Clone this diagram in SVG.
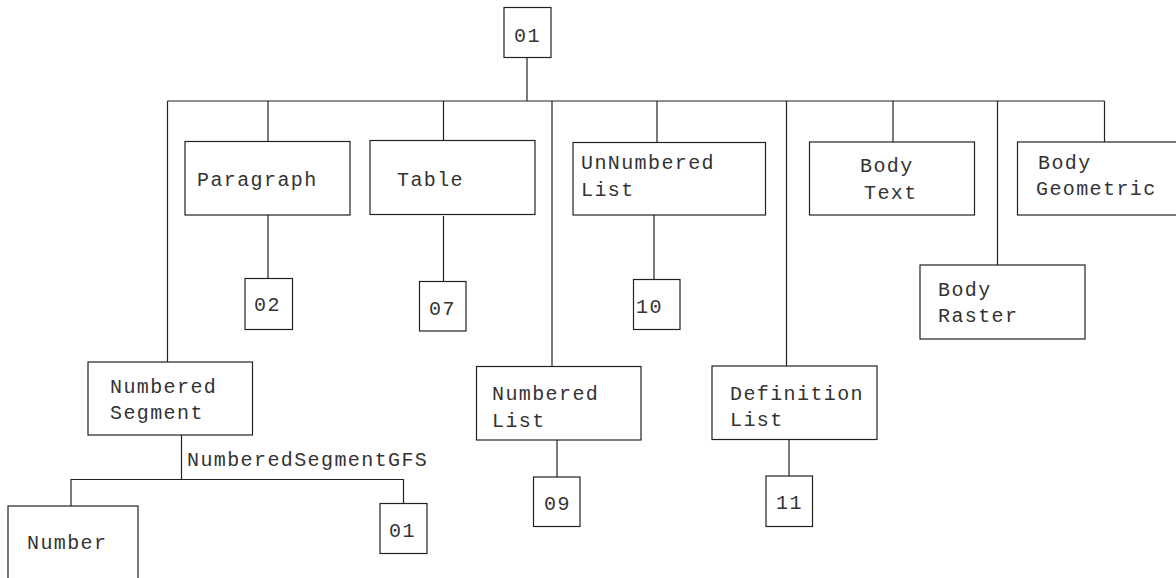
<svg xmlns="http://www.w3.org/2000/svg" width="1176" height="578" viewBox="0 0 1176 578">
<style>
rect{fill:#fff;stroke:#222;stroke-width:1.2}
#connectors line,#connectors polyline{stroke:#222;stroke-width:1.2;fill:none}
text{font-family:"Liberation Mono","DejaVu Sans Mono",monospace;font-size:20px;letter-spacing:1.4px;fill:#333}
</style>
<rect x="0" y="0" width="1176" height="578" style="stroke:none"/>
<g id="connectors">
<line x1="527" y1="58" x2="527" y2="101"/>
<line x1="167.5" y1="101" x2="1104.5" y2="101"/>
<line x1="167.5" y1="101" x2="167.5" y2="362"/>
<line x1="268" y1="101" x2="268" y2="141"/>
<line x1="268" y1="215" x2="268" y2="278"/>
<line x1="443.5" y1="101" x2="443.5" y2="140"/>
<line x1="443.5" y1="216" x2="443.5" y2="281"/>
<line x1="552" y1="101" x2="552" y2="366"/>
<line x1="557" y1="440" x2="557" y2="477"/>
<line x1="657" y1="101" x2="657" y2="142"/>
<line x1="654" y1="215" x2="654" y2="279"/>
<line x1="786.5" y1="101" x2="786.5" y2="366"/>
<line x1="789" y1="439" x2="789" y2="476"/>
<line x1="893" y1="101" x2="893" y2="142"/>
<line x1="997.5" y1="101" x2="997.5" y2="265"/>
<line x1="1104.5" y1="101" x2="1104.5" y2="142"/>
<line x1="181.5" y1="435" x2="181.5" y2="479.5"/>
<polyline points="71,506 71,479.5 403.5,479.5 403.5,503"/>
<text x="187" y="466">NumberedSegmentGFS</text>
</g>
<g id="n01top"><rect x="504" y="7.5" width="47" height="50"/><text x="514" y="42">01</text></g>
<g id="paragraph"><rect x="185" y="141.5" width="165" height="73.5"/><text x="197" y="186">Paragraph</text></g>
<g id="n02"><rect x="245" y="278.5" width="47.5" height="51"/><text x="254" y="311">02</text></g>
<g id="table"><rect x="370" y="140.5" width="165" height="74"/><text x="397" y="186">Table</text></g>
<g id="n07"><rect x="419.5" y="281.5" width="46.5" height="49.5"/><text x="429" y="315">07</text></g>
<g id="unnumbered"><rect x="573" y="142.5" width="192.5" height="72.5"/><text x="581" y="169">UnNumbered</text><text x="581" y="196">List</text></g>
<g id="n10"><rect x="633.5" y="279.5" width="46.5" height="50"/><text x="636" y="313">10</text></g>
<g id="bodytext"><rect x="809.5" y="142" width="165" height="73"/><text x="860" y="172">Body</text><text x="864" y="199">Text</text></g>
<g id="bodygeometric"><rect x="1017.5" y="142" width="180" height="73"/><text x="1038" y="169">Body</text><text x="1036" y="195">Geometric</text></g>
<g id="bodyraster"><rect x="920" y="265" width="165" height="74"/><text x="938" y="296">Body</text><text x="938" y="322">Raster</text></g>
<g id="numberedsegment"><rect x="88" y="362" width="164.5" height="73"/><text x="110" y="393">Numbered</text><text x="110" y="419">Segment</text></g>
<g id="numberedlist"><rect x="476.5" y="366.5" width="164.5" height="73.5"/><text x="492" y="400">Numbered</text><text x="492" y="427">List</text></g>
<g id="n09"><rect x="533.5" y="477" width="46.5" height="49.5"/><text x="544" y="510">09</text></g>
<g id="definitionlist"><rect x="712" y="366" width="165" height="73.5"/><text x="730" y="400">Definition</text><text x="730" y="426">List</text></g>
<g id="n11"><rect x="766" y="476" width="46.5" height="50.5"/><text x="776" y="509">11</text></g>
<g id="number"><rect x="8" y="506" width="130" height="90"/><text x="27" y="549">Number</text></g>
<g id="n01bottom"><rect x="380" y="503.5" width="47" height="50"/><text x="389" y="537">01</text></g>
</svg>
